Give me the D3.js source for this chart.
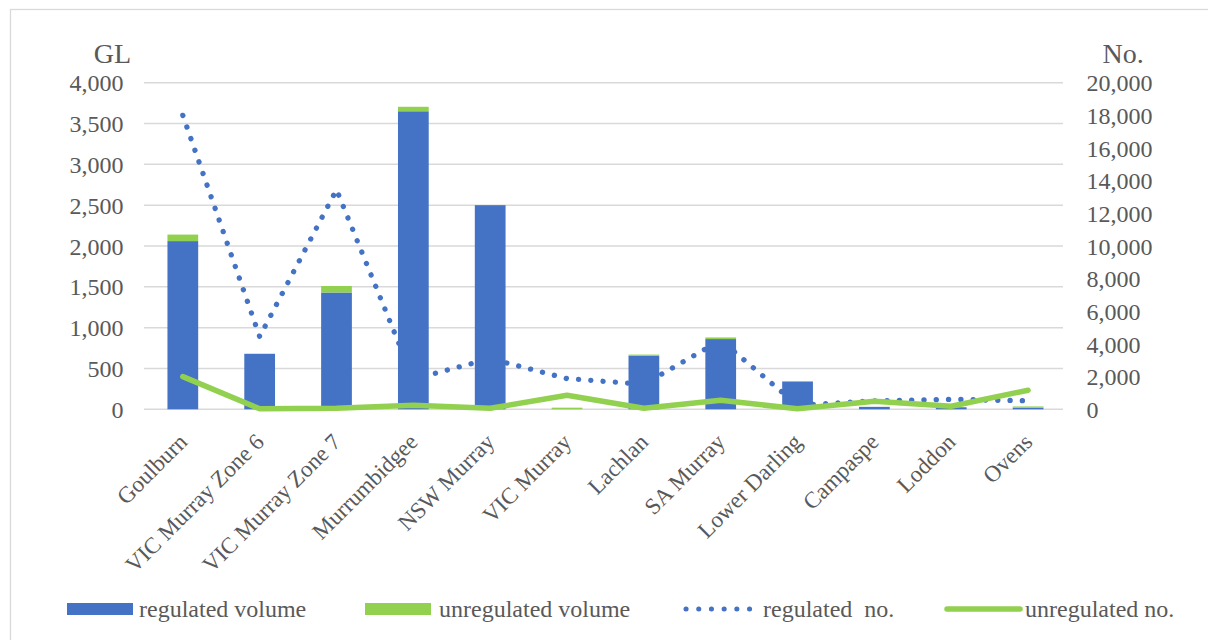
<!DOCTYPE html>
<html>
<head>
<meta charset="utf-8">
<script src="https://cdn.jsdelivr.net/npm/d3@7"></script>
<style>
  html, body { margin: 0; padding: 0; background: #ffffff; }
  svg { display: block; }
  text { font-family: "Liberation Serif", "Times New Roman", "DejaVu Serif", serif; fill: #595959; }
</style>
</head>
<body>
<svg id="chart" width="1208" height="640"></svg>
<script>
// Entitlements by trading zone: volumes (GL, left axis) and counts (No., right axis)
const categories = ["Goulburn", "VIC Murray Zone 6", "VIC Murray Zone 7", "Murrumbidgee", "NSW Murray",
  "VIC Murray", "Lachlan", "SA Murray", "Lower Darling", "Campaspe", "Loddon", "Ovens"];
const regulatedVolume   = [2060, 680, 1430, 3650, 2500, 0, 655, 860, 335, 30, 25, 20];
const unregulatedVolume = [80, 0, 80, 55, 0, 20, 15, 20, 12, 0, 0, 15];
const regulatedNo       = [18000, 4450, 13450, 1850, 3100, 1880, 1530, 4230, 250, 520, 610, 520];
const unregulatedNo     = [2000, 30, 60, 250, 60, 860, 60, 550, 30, 490, 190, 1170];
const leftTickValues  = [0, 500, 1000, 1500, 2000, 2500, 3000, 3500, 4000];
const rightTickValues = [0, 2000, 4000, 6000, 8000, 10000, 12000, 14000, 16000, 18000, 20000];
const legendItems = [
  { label: "regulated volume", kind: "bar", color: "#4472C4" },
  { label: "unregulated volume", kind: "bar", color: "#92D050" },
  { label: "regulated  no.", kind: "dots", color: "#4472C4" },
  { label: "unregulated no.", kind: "line", color: "#92D050" }
];

const BLUE = "#4472C4", GREEN = "#92D050", GRID = "#d9d9d9";
const FONT = '"Liberation Serif", "Times New Roman", "DejaVu Serif", serif';
const svg = d3.select("#chart");

// outer frame
svg.append("rect").attr("x", 10.5).attr("y", 9.5).attr("width", 1220).attr("height", 660)
  .attr("fill", "none").attr("stroke", GRID).attr("stroke-width", 1.3);

const plot = { left: 144.4, right: 1066.5, top: 82.7, bottom: 409.3 };

const x = d3.scaleBand().domain(categories).range([plot.left, plot.right])
  .paddingInner(0.6).paddingOuter(0.3);
const yL = d3.scaleLinear().domain([0, 4000]).range([plot.bottom, plot.top]);
const yR = d3.scaleLinear().domain([0, 20000]).range([plot.bottom, plot.top]);
const cx = c => x(c) + x.bandwidth() / 2;

// horizontal gridlines
svg.append("g").selectAll("line").data(leftTickValues).join("line")
  .attr("x1", 144).attr("x2", 1063)
  .attr("y1", d => yL(d)).attr("y2", d => yL(d))
  .attr("stroke", GRID).attr("stroke-width", 1.5);

// left axis
const gL = svg.append("g").attr("transform", "translate(123.5,0)")
  .call(d3.axisLeft(yL).tickValues(leftTickValues).tickFormat(d3.format(",")).tickSize(0).tickPadding(0));
gL.attr("font-family", null);
gL.select(".domain").remove();
gL.selectAll("text").style("font-family", FONT).style("font-size", "24px").attr("fill", "#595959").attr("dy", "0.34em");

// right axis
const gR = svg.append("g").attr("transform", "translate(1086.5,0)")
  .call(d3.axisRight(yR).tickValues(rightTickValues).tickFormat(d3.format(",")).tickSize(0).tickPadding(0));
gR.attr("font-family", null);
gR.select(".domain").remove();
gR.selectAll("text").style("font-family", FONT).style("font-size", "24px").attr("fill", "#595959").attr("dy", "0.34em");

// axis unit titles
svg.append("text").attr("x", 131).attr("y", 63).attr("text-anchor", "end")
  .style("font-family", FONT).style("font-size", "28px").text("GL");
svg.append("text").attr("x", 1102.5).attr("y", 62.5)
  .style("font-family", FONT).style("font-size", "28px").text("No.");

// category axis
const gX = svg.append("g").attr("transform", `translate(0,${plot.bottom})`)
  .call(d3.axisBottom(x).tickSize(0));
gX.attr("font-family", null);
gX.select(".domain").remove();
gX.selectAll("text")
  .style("font-family", FONT).style("font-size", "23px").attr("fill", "#595959")
  .attr("x", 0).attr("y", 0).attr("dy", 0)
  .attr("text-anchor", "end")
  .attr("transform", "translate(5.7,34) rotate(-45)");

// regulated count: dotted line, drawn beneath the bars
const lineR = d3.line().x((d, i) => cx(categories[i])).y(d => yR(d));
svg.append("path").datum(regulatedNo).attr("d", lineR)
  .attr("fill", "none").attr("stroke", BLUE).attr("stroke-width", 5.3)
  .attr("stroke-linecap", "round").attr("stroke-dasharray", "0.1 12.2");

// stacked volume bars
const bars = svg.append("g");
bars.selectAll("rect.reg").data(categories).join("rect").attr("class", "reg")
  .attr("x", d => x(d)).attr("width", x.bandwidth())
  .attr("y", (d, i) => yL(regulatedVolume[i]))
  .attr("height", (d, i) => yL(0) - yL(regulatedVolume[i]))
  .attr("fill", BLUE);
bars.selectAll("rect.unreg").data(categories).join("rect").attr("class", "unreg")
  .attr("x", d => x(d)).attr("width", x.bandwidth())
  .attr("y", (d, i) => yL(regulatedVolume[i] + unregulatedVolume[i]))
  .attr("height", (d, i) => yL(regulatedVolume[i]) - yL(regulatedVolume[i] + unregulatedVolume[i]))
  .attr("fill", GREEN);

// unregulated count: solid line on top
svg.append("path").datum(unregulatedNo).attr("d", lineR)
  .attr("fill", "none").attr("stroke", GREEN).attr("stroke-width", 5.5)
  .attr("stroke-linejoin", "round").attr("stroke-linecap", "round");

// legend
const legendPos = [
  { sx: 67, tx: 139 },
  { sx: 365, tx: 439 },
  { sx: 686, tx: 763 },
  { sx: 947, tx: 1025 }
];
const lg = svg.append("g");
legendItems.forEach((item, i) => {
  const p = legendPos[i];
  if (item.kind === "bar") {
    lg.append("rect").attr("x", p.sx).attr("y", 603).attr("width", 66).attr("height", 12).attr("fill", item.color);
  } else if (item.kind === "dots") {
    lg.append("line").attr("x1", p.sx).attr("x2", p.sx + 66).attr("y1", 609).attr("y2", 609)
      .attr("stroke", item.color).attr("stroke-width", 5).attr("stroke-linecap", "round")
      .attr("stroke-dasharray", "0.1 12.6");
  } else {
    lg.append("line").attr("x1", p.sx).attr("x2", p.sx + 73).attr("y1", 609).attr("y2", 609)
      .attr("stroke", item.color).attr("stroke-width", 5.5).attr("stroke-linecap", "round");
  }
  lg.append("text").attr("x", p.tx).attr("y", 617)
    .style("font-family", FONT).style("font-size", "24px")
    .style("white-space", "pre").attr("xml:space", "preserve").text(item.label);
});
</script>
</body>
</html>
